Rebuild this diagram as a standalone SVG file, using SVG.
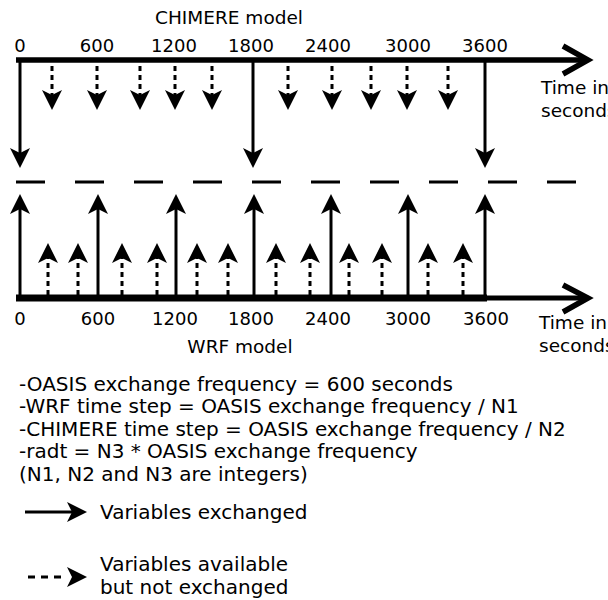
<svg xmlns="http://www.w3.org/2000/svg" width="608" height="600" viewBox="0 0 608 600">
<defs>
<style>
text{font-family:"DejaVu Sans","Liberation Sans",sans-serif;fill:#000}
.lbl{font-size:18px;text-anchor:middle}
.ttl{font-size:18.5px;text-anchor:middle}
.side{font-size:18.5px}
.txt{font-size:20px}
.axis{stroke:#000;fill:none;stroke-linejoin:miter;stroke-linecap:butt}
.sol{stroke:#000;stroke-width:3;fill:none;marker-end:url(#ah)}
.dsh{stroke:#000;stroke-width:3;fill:none;stroke-dasharray:5,4;marker-end:url(#ah)}
.mid{stroke:#000;stroke-width:3;fill:none;stroke-dasharray:29,30}
</style>
<marker id="ah" markerUnits="userSpaceOnUse" viewBox="0 0 20 20" refX="6" refY="10" markerWidth="20" markerHeight="20" orient="auto">
<path d="M0,0 L20,10 L0,20 L5,10 Z" fill="#000"/>
</marker>
</defs>
<rect width="608" height="600" fill="#fff"/>

<g id="chimere-axis">
<line class="axis" x1="16" y1="60" x2="588" y2="60" stroke-width="5.5"/>
<polyline class="axis" points="563,46 588,60 563,74" stroke-width="5.5"/>
<text class="ttl" x="229" y="24">CHIMERE model</text>
<text class="lbl" x="20" y="52">0</text>
<text class="lbl" x="97" y="52">600</text>
<text class="lbl" x="174" y="52">1200</text>
<text class="lbl" x="251" y="52">1800</text>
<text class="lbl" x="328" y="52">2400</text>
<text class="lbl" x="408" y="52">3000</text>
<text class="lbl" x="485" y="52">3600</text>
<text class="side" x="541" y="94">Time in</text>
<text class="side" x="541" y="117">seconds</text>
</g>

<g id="wrf-axis">
<line class="axis" x1="16" y1="298" x2="487" y2="298" stroke-width="7"/>
<line class="axis" x1="486" y1="298" x2="588" y2="298" stroke-width="5"/>
<polyline class="axis" points="563,285 588,298 563,312" stroke-width="5.5"/>
<text class="ttl" x="240" y="353">WRF model</text>
<text class="lbl" x="20" y="325">0</text>
<text class="lbl" x="98" y="325">600</text>
<text class="lbl" x="175" y="325">1200</text>
<text class="lbl" x="251" y="325">1800</text>
<text class="lbl" x="328" y="325">2400</text>
<text class="lbl" x="408" y="325">3000</text>
<text class="lbl" x="486" y="325">3600</text>
<text class="side" x="539" y="329">Time in</text>
<text class="side" x="539" y="352">seconds</text>
</g>

<g id="oasis-line">
<line class="mid" x1="16" y1="182" x2="580" y2="182"/>
</g>

<g id="connectors">
<line class="sol" x1="20" y1="62" x2="20" y2="154"/>
<line class="sol" x1="253" y1="62" x2="253" y2="154"/>
<line class="sol" x1="485" y1="62" x2="485" y2="154"/>
<line class="dsh" x1="52" y1="66" x2="52" y2="96"/>
<line class="dsh" x1="97" y1="66" x2="97" y2="96"/>
<line class="dsh" x1="140" y1="66" x2="140" y2="96"/>
<line class="dsh" x1="175" y1="66" x2="175" y2="96"/>
<line class="dsh" x1="212" y1="66" x2="212" y2="96"/>
<line class="dsh" x1="288" y1="66" x2="288" y2="96"/>
<line class="dsh" x1="332" y1="66" x2="332" y2="96"/>
<line class="dsh" x1="371" y1="66" x2="371" y2="96"/>
<line class="dsh" x1="407" y1="66" x2="407" y2="96"/>
<line class="dsh" x1="448" y1="66" x2="448" y2="96"/>

<line class="sol" x1="20" y1="296" x2="20" y2="208"/>
<line class="sol" x1="98" y1="296" x2="98" y2="208"/>
<line class="sol" x1="176" y1="296" x2="176" y2="208"/>
<line class="sol" x1="254" y1="296" x2="254" y2="208"/>
<line class="sol" x1="331" y1="296" x2="331" y2="208"/>
<line class="sol" x1="408" y1="296" x2="408" y2="208"/>
<line class="sol" x1="485" y1="296" x2="485" y2="208"/>
<line class="dsh" x1="48" y1="295" x2="48" y2="257"/>
<line class="dsh" x1="78" y1="295" x2="78" y2="257"/>
<line class="dsh" x1="122" y1="295" x2="122" y2="257"/>
<line class="dsh" x1="157" y1="295" x2="157" y2="257"/>
<line class="dsh" x1="197" y1="295" x2="197" y2="257"/>
<line class="dsh" x1="228" y1="295" x2="228" y2="257"/>
<line class="dsh" x1="276" y1="295" x2="276" y2="257"/>
<line class="dsh" x1="310" y1="295" x2="310" y2="257"/>
<line class="dsh" x1="349" y1="295" x2="349" y2="257"/>
<line class="dsh" x1="382" y1="295" x2="382" y2="257"/>
<line class="dsh" x1="428" y1="295" x2="428" y2="257"/>
<line class="dsh" x1="463" y1="295" x2="463" y2="257"/>
</g>

<g id="notes">
<text class="txt" x="19" y="390.5">-OASIS exchange frequency = 600 seconds</text>
<text class="txt" x="19" y="413">-WRF time step = OASIS exchange frequency / N1</text>
<text class="txt" x="19" y="435.5">-CHIMERE time step = OASIS exchange frequency / N2</text>
<text class="txt" x="19" y="458">-radt = N3 * OASIS exchange frequency</text>
<text class="txt" x="19" y="480.5">(N1, N2 and N3 are integers)</text>
</g>

<g id="legend">
<line class="sol" x1="25" y1="512" x2="73" y2="512"/>
<text class="txt" x="100" y="519">Variables exchanged</text>
<line class="dsh" x1="28" y1="577" x2="73" y2="577" style="stroke-dasharray:7,6,7,6,7,20"/>
<text class="txt" x="100" y="571">Variables available</text>
<text class="txt" x="100" y="594">but not exchanged</text>
</g>
</svg>
